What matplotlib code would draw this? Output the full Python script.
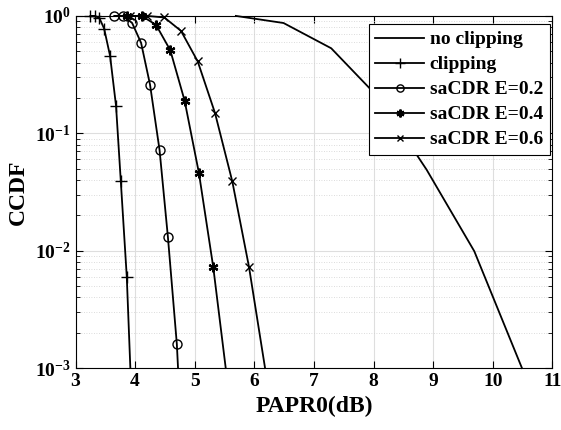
import numpy as np
import matplotlib
matplotlib.use("Agg")
import matplotlib.pyplot as plt
from matplotlib.ticker import LogLocator, NullFormatter

plt.rcParams["font.family"] = ["Liberation Serif", "DejaVu Serif"]
plt.rcParams["font.weight"] = "bold"
plt.rcParams["mathtext.fontset"] = "custom"
plt.rcParams["mathtext.rm"] = "Liberation Serif:bold"
plt.rcParams["mathtext.bf"] = "Liberation Serif:bold"
plt.rcParams["mathtext.it"] = "Liberation Serif:bold"

# PAPR0 (dB) and CCDF
no_clip_x = [5.69, 6.49, 7.29, 8.09, 8.89, 9.69, 10.49]
no_clip_y = [1.0, 0.87, 0.53, 0.20, 0.049, 0.0099, 0.001]

clip_x = [3.25, 3.32, 3.40, 3.48, 3.58, 3.68, 3.76, 3.86, 3.92]
clip_y = [1.0, 1.0, 0.96, 0.78, 0.456, 0.171, 0.039, 0.006, 0.001]

e02_x = [3.65, 3.80, 3.95, 4.10, 4.25, 4.41, 4.55, 4.70, 4.72]
e02_y = [1.0, 1.0, 0.87, 0.59, 0.26, 0.072, 0.0131, 0.0016, 0.001]

e04_x = [3.87, 4.11, 4.35, 4.59, 4.83, 5.07, 5.31, 5.52]
e04_y = [1.0, 1.0, 0.84, 0.51, 0.19, 0.046, 0.0073, 0.001]

e06_x = [3.92, 4.20, 4.49, 4.77, 5.05, 5.34, 5.63, 5.91, 6.18]
e06_y = [1.0, 1.0, 0.97, 0.745, 0.41, 0.149, 0.039, 0.0073, 0.001]

series = [
    ("no clipping", no_clip_x, no_clip_y, None, 7),
    ("clipping", clip_x, clip_y, "+", 8.5),
    ("saCDR E=0.2", e02_x, e02_y, "o", 6.5),
    ("saCDR E=0.4", e04_x, e04_y, (6, 2, 0), 7),
    ("saCDR E=0.6", e06_x, e06_y, "x", 6),
]

fig = plt.figure(figsize=(5.61, 4.30), dpi=100)
ax = fig.add_axes([0.1346, 0.144, 0.850, 0.819])

for label, xs, ys, mk, ms in series:
    # last point of the marked series is where the line leaves the axes
    n = len(xs) if mk is None else len(xs) - 1
    mew = 1.6 if label == "saCDR E=0.4" else 1.0
    ax.plot(xs, ys, color="black", lw=1.3, marker=mk, markersize=ms,
            markerfacecolor="none", markeredgewidth=mew,
            markevery=list(range(n)), label=label, clip_on=False)

ax.set_yscale("log")
ax.set_xlim(3, 11)
ax.set_ylim(1e-3, 1)
ax.set_xticks(range(3, 12))
ax.set_yticks([1e-3, 1e-2, 1e-1, 1])
ax.set_yticklabels([r"$10^{-3}$", r"$10^{-2}$", r"$10^{-1}$", r"$10^{0}$"])
ax.yaxis.set_minor_locator(LogLocator(base=10, subs=np.arange(2, 10)))
ax.yaxis.set_minor_formatter(NullFormatter())

ax.grid(True, which="major", color="#dedede", lw=0.8, ls="-")
ax.grid(True, which="minor", axis="y", color="#d0d0d0", lw=0.6, ls=(0, (1, 2)))
ax.set_axisbelow(True)

ax.tick_params(which="both", direction="in", top=True, right=True, labelsize=14)
ax.tick_params(which="major", length=5)
ax.tick_params(which="minor", length=3)
for s in ax.spines.values():
    s.set_linewidth(0.8)

ax.set_xlabel("PAPR0(dB)", fontsize=17, fontweight="bold", labelpad=4)
ax.set_ylabel("CCDF", fontsize=17, fontweight="bold", labelpad=4)

leg = ax.legend(loc="upper right", bbox_to_anchor=(0.995, 0.977),
                fontsize=14, frameon=True, fancybox=False, framealpha=1,
                edgecolor="black", handlelength=2.5, handletextpad=0.3,
                borderaxespad=0, borderpad=0.35, labelspacing=0.38,
                markerscale=0.8)
leg.get_frame().set_linewidth(0.8)

fig.savefig("out.png", dpi=100)
